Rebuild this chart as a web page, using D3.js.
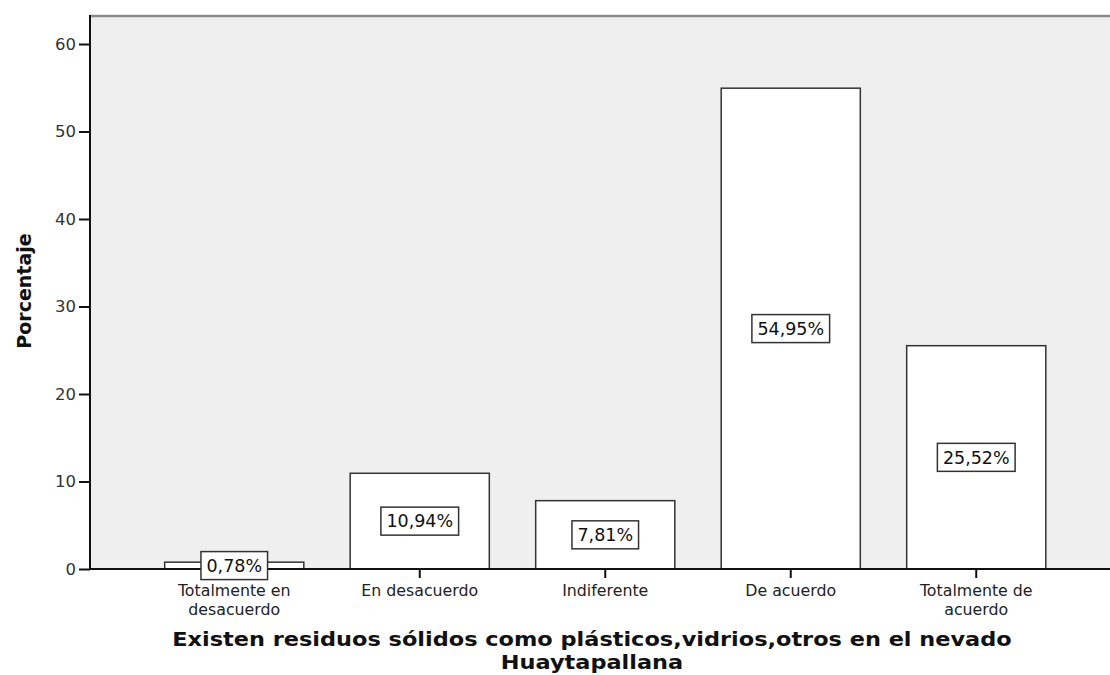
<!DOCTYPE html>
<html><head><meta charset="utf-8">
<script src="https://cdn.jsdelivr.net/npm/d3@7"></script>
<style>body{margin:0;background:#fff;}</style>
</head><body>
<svg id="c" width="1110" height="675"></svg>
<script>
const categories = [["Totalmente en","desacuerdo"],["En desacuerdo"],["Indiferente"],["De acuerdo"],["Totalmente de","acuerdo"]];
const values = [0.78, 10.94, 7.81, 54.95, 25.52];
const valueLabels = ["0,78%","10,94%","7,81%","54,95%","25,52%"];
const yTicks = [0,10,20,30,40,50,60];
const xTitle = ["Existen residuos sólidos como plásticos,vidrios,otros en el nevado","Huaytapallana"];
const yTitle = "Porcentaje";

const FONT = "DejaVu Sans, Verdana, sans-serif";
const svg = d3.select("#c");
const plotL = 90, plotR = 1112, plotT = 16, plotB = 569;
const y = d3.scaleLinear().domain([0,60]).range([plotB, 44]);
const x = d3.scaleBand().domain(d3.range(values.length)).range([141.5, 1069]).paddingInner(0.25).paddingOuter(0.125);

svg.append("rect").attr("x",plotL).attr("y",plotT).attr("width",plotR-plotL).attr("height",plotB-plotT).attr("fill","#efefef");
svg.append("line").attr("x1",plotL).attr("x2",plotR).attr("y1",plotT).attr("y2",plotT).attr("stroke","#8a8a8a").attr("stroke-width",2.5);

svg.selectAll("rect.bar").data(values).enter().append("rect").attr("class","bar")
  .attr("x",(d,i)=>x(i)).attr("width",x.bandwidth())
  .attr("y",d=>y(d)).attr("height",d=>plotB-y(d))
  .attr("fill","#fff").attr("stroke","#333").attr("stroke-width",1.5);

// y axis
const ya = svg.append("g").attr("transform",`translate(${plotL},0)`)
  .call(d3.axisLeft(y).tickValues(yTicks).tickSize(11).tickPadding(3).tickFormat(d3.format("d")));
ya.select(".domain").remove();
ya.selectAll("line").attr("stroke","#111").attr("stroke-width",2);
ya.selectAll("text").attr("font-size",16.5).attr("fill","#333").attr("font-family",FONT);
svg.append("line").attr("x1",plotL).attr("x2",plotL).attr("y1",plotT-1).attr("y2",plotB+1).attr("stroke","#111").attr("stroke-width",2);

// x axis
const xa = svg.append("g").attr("transform",`translate(0,${plotB})`)
  .call(d3.axisBottom(x).tickSize(9).tickFormat(""));
xa.select(".domain").remove();
xa.selectAll("line").attr("stroke","#111").attr("stroke-width",2);
svg.append("line").attr("x1",plotL).attr("x2",plotR).attr("y1",plotB).attr("y2",plotB).attr("stroke","#111").attr("stroke-width",2);

categories.forEach((lines,i)=>{
  const cx = x(i)+x.bandwidth()/2;
  lines.forEach((l,j)=>svg.append("text").attr("x",cx).attr("y",596 + j*18.5).attr("text-anchor","middle")
    .attr("font-size",15.8).attr("font-family",FONT).attr("fill","#222").text(l));
});

// value labels
values.forEach((v,i)=>{
  const cx = x(i)+x.bandwidth()/2, cy = y(v/2);
  const g = svg.append("g");
  const t = g.append("text").attr("x",cx).attr("y",cy+6.3).attr("text-anchor","middle")
    .attr("font-size",17.5).attr("font-family",FONT).attr("fill","#111").text(valueLabels[i]);
  const bb = t.node().getBBox();
  g.insert("rect","text").attr("x",bb.x-5.5).attr("y",cy-14).attr("width",bb.width+11).attr("height",28)
    .attr("fill","#fff").attr("stroke","#333").attr("stroke-width",1.5);
});

// titles
svg.append("text").attr("transform","translate(31,291) rotate(-90)").attr("text-anchor","middle")
  .attr("font-size",19).attr("font-weight","bold").attr("font-family",FONT).attr("fill","#111").text(yTitle);
const tg = svg.append("g");
xTitle.forEach((l,j)=>tg.append("text").attr("x",0).attr("y",646 + j*23.5).attr("text-anchor","middle")
  .attr("font-size",20).attr("font-weight","bold").attr("font-family",FONT).attr("fill","#111").text(l));
const w0 = tg.select("text").node().getComputedTextLength();
tg.attr("transform",`translate(592,0) scale(${840/w0},1)`);
</script>
</body></html>
